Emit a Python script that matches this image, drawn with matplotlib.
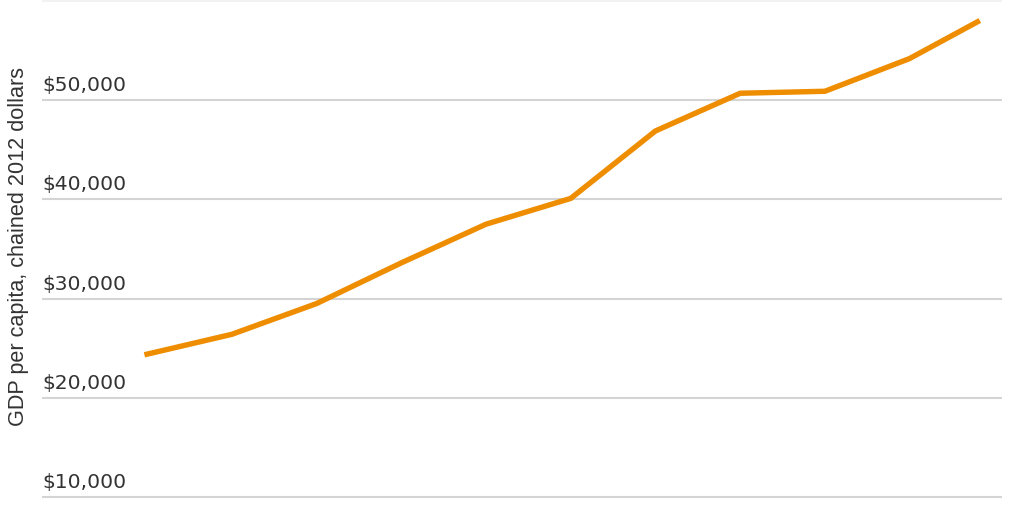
import matplotlib
matplotlib.use("Agg")
import matplotlib.pyplot as plt
import matplotlib.transforms as mtransforms

years = [1970, 1975, 1980, 1985, 1990, 1995, 2000, 2005, 2010, 2015, 2019]
gdp_per_capita = [24400, 26400, 29500, 33600, 37500, 40100, 46900, 50700, 50900, 54200, 57900]
ytick_values = [10000, 20000, 30000, 40000, 50000, 60000]
ytick_labels = ["$10,000", "$20,000", "$30,000", "$40,000", "$50,000", ""]
ylabel = "GDP per capita, chained 2012 dollars"

plt.rcParams['font.family'] = ['Liberation Sans', 'DejaVu Sans']

fig = plt.figure(figsize=(10.24, 5.12), dpi=100)
ax = fig.add_axes([42/1024, 0, 960/1024, 1])
ax.set_xlim(1963.8, 2020.45)
ax.set_ylim(8490, 60100)

for v in ytick_values:
    c = "#f2f2f2" if v == 60000 else "#d4d4d4"
    ax.axhline(v, color=c, lw=1.5, zorder=1)

ax.plot(years, gdp_per_capita, color="#EE8D00", lw=3.9, zorder=3, solid_joinstyle="miter")

trans = mtransforms.blended_transform_factory(ax.transAxes, ax.transData)
offset = mtransforms.ScaledTranslation(0, 5/100, fig.dpi_scale_trans)
for v, lab in zip(ytick_values, ytick_labels):
    if lab:
        ax.text(0.0, v, lab, transform=trans + offset, ha="left", va="bottom",
                fontsize=14.6, color="#333333", family=['DejaVu Sans'])

for s in ax.spines.values():
    s.set_visible(False)
ax.set_xticks([])
ax.set_yticks([])

fig.text(18.5/1024, 1 - 247/512, ylabel, rotation=90, ha="center", va="center",
         fontsize=15.6, color="#333333")

fig.savefig("out.png", dpi=100, facecolor="white")
